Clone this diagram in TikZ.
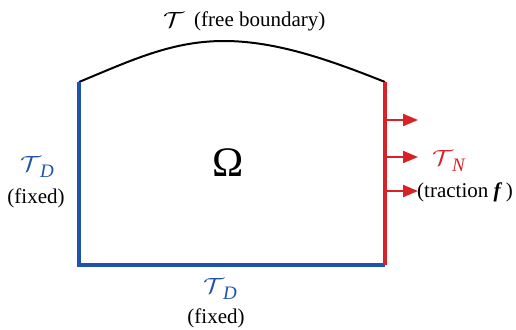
\documentclass[tikz,border=0pt]{standalone}
\usepackage{fontspec}
\usepackage{graphicx}
\setmainfont{Liberation Serif}
\usetikzlibrary{arrows.meta}
\definecolor{dblue}{RGB}{30,85,170}
\definecolor{dred}{RGB}{215,35,40}
\newcommand\myT{\resizebox{21pt}{15pt}{$\mathcal{T}$}}
\newcommand\mysub[1]{\kern-1pt\raisebox{-6pt}{\fontsize{19}{20}\selectfont\textit{#1}}}
\begin{document}
\begin{tikzpicture}[x=1pt,y=-1pt,
  lbl/.style={inner sep=0pt,font=\fontsize{21}{24}\selectfont},
  bdry/.style={line width=3.2pt},
  force/.style={dred,line width=2pt,-{Triangle[length=15pt,width=12pt]}}]
\useasboundingbox (0,0) rectangle (516,329);
\coordinate (tl) at (79,82);
\coordinate (tr) at (385,82);
\coordinate (bl) at (79,265);
\coordinate (br) at (385,265);
\draw[line width=2pt] (tl) .. controls (132,60) and (172,41) .. (224,41)
  .. controls (276,41) and (330,60) .. (tr);
\draw[bdry,dblue] (tl) -- (bl) -- (br);
\draw[bdry,dred] (br) -- (tr);
\coordinate (a1) at (385,120);
\coordinate (a2) at (385,157);
\coordinate (a3) at (385,191);
\coordinate (e1) at (418,120);
\coordinate (e2) at (418,157);
\coordinate (e3) at (418,191);
\draw[force] (a1) -- (e1);
\draw[force] (a2) -- (e2);
\draw[force] (a3) -- (e3);
\node[lbl] (om) at (228,163) {\fontsize{42}{44}\selectfont Ω};
\node[lbl,anchor=west] (T) at (163,20) {\myT};
\node[lbl,anchor=west] (fb) at (194,21) {(free boundary)};
\node[lbl,dblue] (TDl) at (37,167) {\myT\mysub{D}};
\node[lbl] (fxl) at (36,198) {(fixed)};
\node[lbl,dblue] (TDb) at (220,289) {\myT\mysub{D}};
\node[lbl] (fxb) at (216,318) {(fixed)};
\node[lbl,dred] (TN) at (449,161) {\myT\mysub{N}};
\node[lbl,anchor=west] (trc) at (417,192) {(traction \textit{\textbf{f}}\,)};
\end{tikzpicture}
\end{document}
